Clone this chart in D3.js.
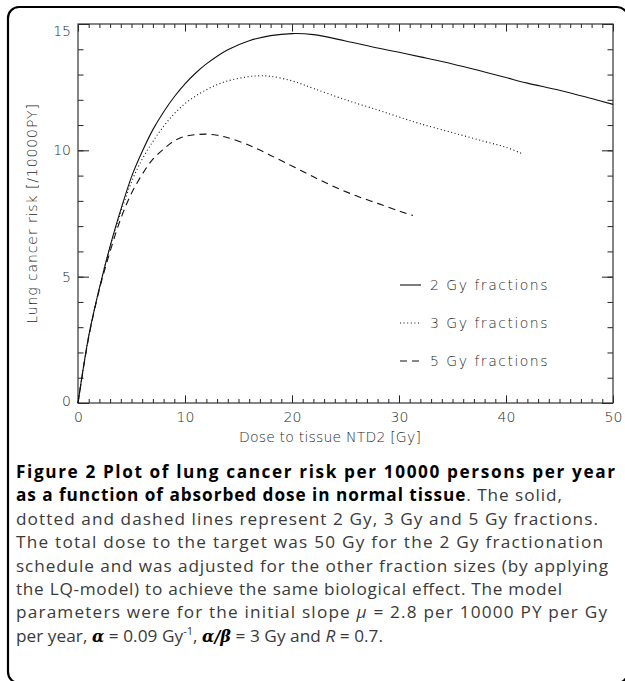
<!DOCTYPE html>
<html><head><meta charset="utf-8">
<script src="https://cdn.jsdelivr.net/npm/d3@7"></script>
<style>
html,body{margin:0;padding:0;background:#fff;}
svg{display:block;}
</style></head><body>
<svg id="c" width="625" height="681"></svg>
<script>
// ---- data ----
const dose2Gy = [0,0.5,1,1.5,2,2.5,3,3.5,4,5,6,7,8,9,10,11,12,14,16,18,20,22,25,28,30,32,35,38,40,42,45,48,50];
const risk2Gy = [0,1.4,2.65,3.65,4.55,5.4,6.2,6.95,7.65,8.95,9.95,10.82,11.52,12.12,12.63,13.06,13.42,13.98,14.34,14.54,14.62,14.58,14.33,14.05,13.88,13.7,13.42,13.1,12.88,12.66,12.38,12.05,11.82];
const dose3Gy = [0,1,2,3,4,5,6,7,8,9,10,11,12,13,14,16,17,18,20,22,25,28,30,32,35,38,40,41.5];
const risk3Gy = [0,2.65,4.55,6.2,7.55,8.75,9.65,10.35,10.95,11.45,11.85,12.15,12.4,12.6,12.75,12.92,12.95,12.93,12.75,12.45,12.0,11.6,11.32,11.05,10.7,10.35,10.12,9.87];
const dose5Gy = [0,1,2,3,4,5,6,7,8,9,10,11,12,13,14,16,18,20,22,24,26,28,30,31.3];
const risk5Gy = [0,2.6,4.5,6.0,7.3,8.3,9.05,9.65,10.05,10.38,10.55,10.62,10.64,10.6,10.5,10.2,9.8,9.38,8.95,8.55,8.2,7.9,7.6,7.42];
const seriesLabels = ["2 Gy fractions","3 Gy fractions","5 Gy fractions"];
const xMajorTicks = [0,10,20,30,40,50];
const yMajorTicks = [0,5,10,15];
const xMinorTicks = d3.range(0,51,1);
const yMinorTicks = d3.range(0,16,1);
const xTitle = "Dose to tissue NTD2 [Gy]";
const yTitle = "Lung cancer risk [/10000PY]";

const svg = d3.select("#c");
const plot = {left:78, right:613, top:24, bottom:403};

// outer frame
svg.append("rect").attr("x",8).attr("y",7).attr("width",620).attr("height",676)
  .attr("rx",11).attr("fill","none").attr("stroke","#000").attr("stroke-width",2.2);

const x = d3.scaleLinear().domain([0,50]).range([plot.left, plot.right]);
const y = d3.scaleLinear().domain([0,15]).range([plot.bottom, plot.top]);

const axisFont = "'DejaVu Sans', sans-serif";
const tickCol = "#222";
const labCol = "#2a2a2a";

function styleAxis(g){
  g.select(".domain").remove();
  g.selectAll(".tick line").attr("stroke",tickCol).attr("stroke-width",1);
  g.selectAll(".tick text").attr("fill",labCol).attr("font-size",14)
    .attr("font-family",axisFont).attr("font-weight",300);
}

// bottom
svg.append("g").attr("transform",`translate(0,${plot.bottom})`)
  .call(d3.axisBottom(x).tickValues(xMinorTicks).tickSize(-4).tickFormat(""))
  .call(styleAxis);
svg.append("g").attr("transform",`translate(0,${plot.bottom})`)
  .call(d3.axisBottom(x).tickValues(xMajorTicks).tickSize(-7.6).tickPadding(9).tickFormat(d3.format("d")))
  .call(styleAxis);
// top
svg.append("g").attr("transform",`translate(0,${plot.top})`)
  .call(d3.axisTop(x).tickValues(xMinorTicks).tickSize(-4).tickFormat(""))
  .call(styleAxis);
svg.append("g").attr("transform",`translate(0,${plot.top})`)
  .call(d3.axisTop(x).tickValues(xMajorTicks).tickSize(-7.6).tickFormat(""))
  .call(styleAxis);
// left
svg.append("g").attr("transform",`translate(${plot.left},0)`)
  .call(d3.axisLeft(y).tickValues(yMinorTicks).tickSize(-5.5).tickFormat(""))
  .call(styleAxis);
const yl = svg.append("g").attr("transform",`translate(${plot.left},0)`)
  .call(d3.axisLeft(y).tickValues(yMajorTicks).tickSize(-11).tickPadding(7).tickFormat(d3.format("d")))
  .call(styleAxis);
yl.selectAll(".tick text").attr("dy", d => d===15 ? "0.85em" : (d===0 ? "0.15em" : "0.32em"));
// right
svg.append("g").attr("transform",`translate(${plot.right},0)`)
  .call(d3.axisRight(y).tickValues(yMinorTicks).tickSize(-5.5).tickFormat(""))
  .call(styleAxis);
svg.append("g").attr("transform",`translate(${plot.right},0)`)
  .call(d3.axisRight(y).tickValues(yMajorTicks).tickSize(-11).tickFormat(""))
  .call(styleAxis);

// plot box
svg.append("rect").attr("x",plot.left).attr("y",plot.top)
  .attr("width",plot.right-plot.left).attr("height",plot.bottom-plot.top)
  .attr("fill","none").attr("stroke","#333").attr("stroke-width",1.2);

// titles
svg.append("text").attr("x",330).attr("y",442)
  .attr("text-anchor","middle").attr("font-family",axisFont).attr("font-size",14)
  .attr("font-weight",300).attr("letter-spacing",0.2).attr("fill",labCol).text(xTitle);
svg.append("text").attr("transform",`translate(37,${(plot.top+plot.bottom)/2}) rotate(-90)`)
  .attr("text-anchor","middle").attr("font-family",axisFont).attr("font-size",14)
  .attr("font-weight",300).attr("letter-spacing",0.9).attr("fill",labCol).text(yTitle);

// curves
const series = [
  {dose:dose2Gy, risk:risk2Gy, dash:null},
  {dose:dose3Gy, risk:risk3Gy, dash:"1,2.6"},
  {dose:dose5Gy, risk:risk5Gy, dash:"7,5"}
];
const line = d3.line().x(d=>x(d[0])).y(d=>y(d[1])).curve(d3.curveCatmullRom.alpha(0.5));
series.forEach(s=>{
  svg.append("path").datum(s.dose.map((d,i)=>[d,s.risk[i]]))
    .attr("d",line).attr("fill","none").attr("stroke","#111").attr("stroke-width",1.1)
    .attr("stroke-dasharray",s.dash);
});

// legend
const legY = [285, 323, 361];
series.forEach((s,i)=>{
  svg.append("line").attr("x1",400).attr("x2",421).attr("y1",legY[i]).attr("y2",legY[i])
    .attr("stroke","#111").attr("stroke-width",1.1).attr("stroke-dasharray",s.dash);
  svg.append("text").attr("x",430).attr("y",legY[i]+5).attr("font-family",axisFont)
    .attr("font-size",14).attr("font-weight",300).attr("letter-spacing",1.5).attr("fill",labCol)
    .text(seriesLabels[i]);
});

// caption
const capFont = "'Open Sans', sans-serif";
const capSize = 17.2;
const capX = 16, capY0 = 478, capDy = 23.4;
const capLines = [
  [{t:"Figure 2 Plot of lung cancer risk per 10000 persons per year", b:1}],
  [{t:"as a function of absorbed dose in normal tissue", b:1},{t:". The solid,"}],
  [{t:"dotted and dashed lines represent 2 Gy, 3 Gy and 5 Gy fractions."}],
  [{t:"The total dose to the target was 50 Gy for the 2 Gy fractionation"}],
  [{t:"schedule and was adjusted for the other fraction sizes (by applying"}],
  [{t:"the LQ-model) to achieve the same biological effect. The model"}],
  [{t:"parameters were for the initial slope "},{t:"μ",i:1},{t:" = 2.8 per 10000 PY per Gy"}],
  [{t:"per year, "},{t:"α",g:1},{t:" = 0.09 Gy"},{t:"-1",sup:1},{t:", "},{t:"α/β",g:1},{t:" = 3 Gy and "},{t:"R",i:1},{t:" = 0.7."}]
];
const capWidths = [599, 546, 582, 587, 592, 546, 591, 367];
capLines.forEach((parts,li)=>{
  const t = svg.append("text").attr("x",capX).attr("y",capY0+li*capDy)
    .attr("font-family",capFont).attr("font-size",capSize).attr("fill","#3a3a3a")
    .attr("textLength",capWidths[li]).attr("lengthAdjust","spacing");
  let raised=false;
  parts.forEach(p=>{
    const ts = t.append("tspan").text(p.t);
    if(p.b) ts.attr("font-weight",700).attr("fill","#000");
    if(p.i) ts.attr("font-style","italic");
    if(p.g) ts.attr("font-family","'DejaVu Serif', serif").attr("font-style","italic").attr("font-weight",700).attr("fill","#000").attr("font-size",16);
    if(p.sup){ ts.attr("dy",-7).attr("font-size",11); raised=true; }
    else if(raised){ ts.attr("dy",7); raised=false; }
  });
});
</script>
</body></html>
